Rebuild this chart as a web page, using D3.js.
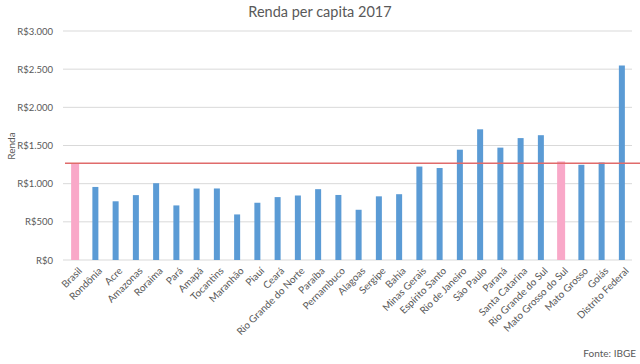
<!DOCTYPE html>
<html>
<head>
<meta charset="utf-8">
<style>
  body { margin: 0; background: #fff; font-family: Lato, "Open Sans", sans-serif; }
  .tick text { fill: #595959; }
</style>
<script src="https://d3js.org/d3.v7.min.js"></script>
</head>
<body>
<script>
// dados
const estados = ["Brasil", "Rondônia", "Acre", "Amazonas", "Roraima", "Pará", "Amapá", "Tocantins",
  "Maranhão", "Piauí", "Ceará", "Rio Grande do Norte", "Paraíba", "Pernambuco", "Alagoas", "Sergipe",
  "Bahia", "Minas Gerais", "Espírito Santo", "Rio de Janeiro", "São Paulo", "Paraná", "Santa Catarina",
  "Rio Grande do Sul", "Mato Grosso do Sul", "Mato Grosso", "Goiás", "Distrito Federal"];
const renda = [1268, 957, 769, 850, 1006, 715, 936, 937, 597, 750, 824, 845, 928, 852, 658, 834,
  862, 1224, 1205, 1445, 1712, 1472, 1597, 1635, 1291, 1247, 1277, 2548];
const destaque = ["Brasil", "Mato Grosso do Sul"];
const mediaBrasil = 1268;
const yTicks = [0, 500, 1000, 1500, 2000, 2500, 3000];

const width = 640, height = 364;
const margin = {left: 65, right: 8, top: 31, bottom: 104};

const svg = d3.select('body').append('svg')
  .attr('width', width).attr('height', height);

const x = d3.scaleBand()
  .domain(estados)
  .range([margin.left, width - margin.right]);

const y = d3.scaleLinear()
  .domain([0, 3000])
  .range([height - margin.bottom, margin.top]);

const fmt = v => 'R$' + d3.format(',d')(v).replace(/,/g, '.');

// grid
svg.append('g')
  .selectAll('line')
  .data(yTicks)
  .join('line')
  .attr('x1', margin.left - 2).attr('x2', width - margin.right)
  .attr('y1', d => y(d)).attr('y2', d => y(d))
  .attr('stroke', '#d9d9d9').attr('stroke-width', 1);

// eixo y
const yAxis = svg.append('g')
  .attr('transform', `translate(${margin.left - 9},0)`)
  .call(d3.axisLeft(y).tickValues(yTicks).tickFormat(fmt).tickSize(0));
yAxis.select('.domain').remove();
yAxis.selectAll('text').attr('font-size', 9.5).attr('font-family', 'Lato, sans-serif');

// barras
svg.append('g')
  .selectAll('rect')
  .data(estados)
  .join('rect')
  .attr('x', (d) => x(d) + x.bandwidth() / 2 - (destaque.includes(d) ? 4 : 3))
  .attr('width', d => destaque.includes(d) ? 8 : 6)
  .attr('y', (d, i) => y(renda[i]))
  .attr('height', (d, i) => y(0) - y(renda[i]))
  .attr('fill', d => destaque.includes(d) ? '#f9a8c8' : '#5b9bd5');

// linha da média
svg.append('line')
  .attr('x1', margin.left).attr('x2', width)
  .attr('y1', y(mediaBrasil)).attr('y2', y(mediaBrasil))
  .attr('stroke', '#e06b6b').attr('stroke-width', 1.5);

// rótulos x
svg.append('g')
  .selectAll('text')
  .data(estados)
  .join('text')
  .attr('transform', d => `translate(${x(d) + x.bandwidth() / 2 + 5},${y(0) + 9}) rotate(-45)`)
  .attr('text-anchor', 'end')
  .attr('dy', '0.35em')
  .attr('font-size', 10)
  .attr('fill', '#595959')
  .text(d => d);

// título
svg.append('text')
  .attr('x', 320).attr('y', 17)
  .attr('text-anchor', 'middle')
  .attr('font-size', 14.5)
  .attr('fill', '#595959')
  .text('Renda per capita 2017');

svg.append('text')
  .attr('transform', `translate(15,146) rotate(-90)`)
  .attr('text-anchor', 'middle')
  .attr('font-size', 10)
  .attr('fill', '#595959')
  .text('Renda');

svg.append('text')
  .attr('x', 636).attr('y', 357)
  .attr('text-anchor', 'end')
  .attr('font-size', 10)
  .attr('fill', '#595959')
  .text('Fonte: IBGE');
</script>
</body>
</html>
